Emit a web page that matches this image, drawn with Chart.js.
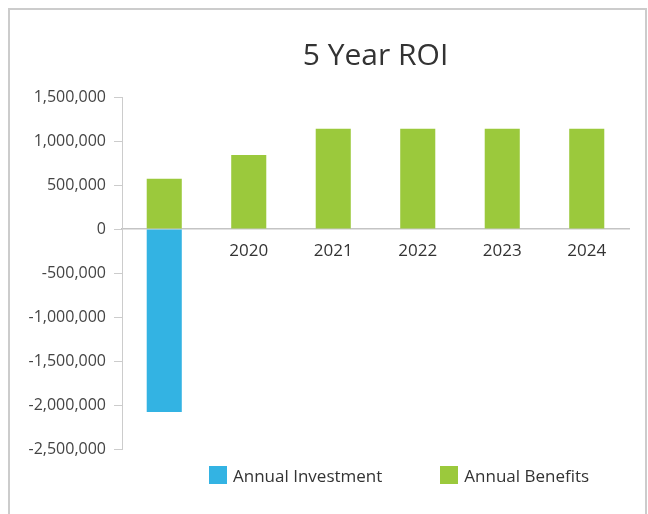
<!DOCTYPE html>
<html>
<head>
<meta charset="utf-8">
<script src="https://cdn.jsdelivr.net/npm/chart.js@4"></script>
<style>
  html, body { margin: 0; padding: 0; background: #fff; overflow: hidden; }
  #frame {
    position: absolute; left: 8px; top: 8px; width: 635px; height: 520px;
    border: 2px solid #cccccc; border-bottom: none;
  }
  #wrap { position: absolute; left: 0; top: 0; width: 648px; height: 514px; }
  #legend {
    position: absolute; left: 209px; top: 466px; display: flex;
    font-family: 'Open Sans', sans-serif; font-size: 17px; color: #333;
  }
  .item { display: flex; align-items: center; height: 18px; margin-right: 58px; white-space: nowrap; }
  .swatch { width: 18px; height: 18px; margin-right: 6px; }
</style>
</head>
<body>
<div id="frame"></div>
<div id="wrap"><canvas id="roiChart" width="648" height="514"></canvas></div>
<div id="legend"></div>
<script>
// ---- data ----
const years = ['', '2020', '2021', '2022', '2023', '2024'];
const investment = [-2080000, 0, 0, 0, 0, 0];
const benefits = [570000, 840000, 1140000, 1140000, 1140000, 1140000];
const yTicks = [-2500000, -2000000, -1500000, -1000000, -500000, 0, 500000, 1000000, 1500000];

const BLUE = '#33b3e3';
const GREEN = '#9bc93c';
const FONT = "'Open Sans', sans-serif";

const ctx = document.getElementById('roiChart').getContext('2d');
const chart = new Chart(ctx, {
    type: 'bar',
    data: {
        labels: years,
        datasets: [
            { label: 'Annual Investment', data: investment, backgroundColor: BLUE },
            { label: 'Annual Benefits', data: benefits, backgroundColor: GREEN }
        ]
    },
    options: {
        responsive: false,
        animation: false,
        layout: { padding: { left: 0, right: 19, top: 0, bottom: 65 } },
        datasets: { bar: { categoryPercentage: 1, barPercentage: 0.415 } },
        scales: {
            x: {
                stacked: true,
                position: { y: 0 },
                grid: { display: false },
                border: { display: true, color: '#c4c4c4', width: 1.5 },
                ticks: { color: '#333', font: { family: FONT, size: 17 }, padding: 4 }
            },
            y: {
                stacked: true,
                min: yTicks[0],
                max: yTicks[yTicks.length - 1],
                afterFit: s => { s.width = 122; },
                afterBuildTicks: s => { s.ticks = yTicks.map(v => ({ value: v })); },
                grid: { drawOnChartArea: false, drawTicks: true, tickLength: 8, color: '#cccccc' },
                border: { display: true, color: '#cccccc' },
                ticks: {
                    color: '#444',
                    padding: 8,
                    font: { family: FONT, size: 16 },
                    callback: v => v.toLocaleString('en-US')
                }
            }
        },
        plugins: {
            legend: { display: false },
            tooltip: { enabled: false },
            title: {
                display: true,
                text: '5 Year ROI',
                fullSize: false,
                color: '#333',
                font: { family: FONT, size: 30, weight: 'normal' },
                padding: { top: 38, bottom: 23 }
            }
        }
    }
});

// legend built from the chart datasets
const legendEl = document.getElementById('legend');
chart.data.datasets.forEach(ds => {
    const item = document.createElement('div');
    item.className = 'item';
    item.innerHTML = `<span class="swatch" style="background:${ds.backgroundColor}"></span><span>${ds.label}</span>`;
    legendEl.appendChild(item);
});
</script>
</body>
</html>
